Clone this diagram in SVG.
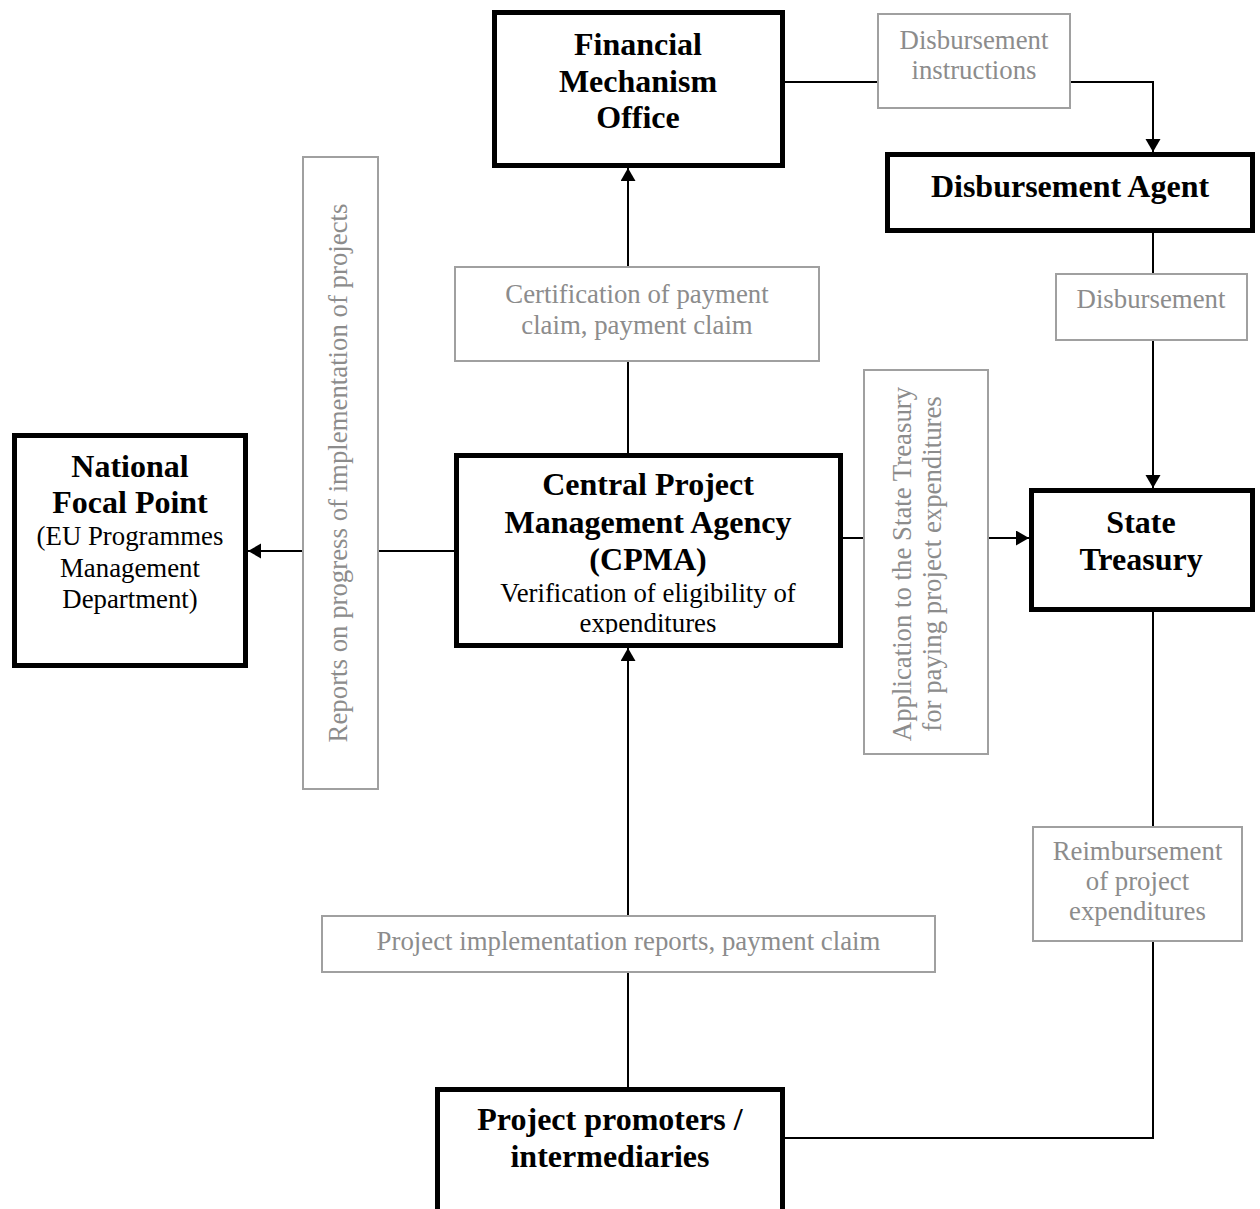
<svg xmlns="http://www.w3.org/2000/svg" width="1260" height="1209" viewBox="0 0 1260 1209">
<defs>
<style>
.node{fill:#fff;stroke:#000;stroke-width:5}
.lbl{fill:#fff;stroke:#a0a0a0;stroke-width:2}
.b{font-family:"Liberation Serif","Times New Roman",serif;font-weight:bold;font-size:32px;fill:#000;text-anchor:middle}
.r{font-family:"Liberation Serif","Times New Roman",serif;font-size:26.8px;fill:#000;text-anchor:middle}
.g{font-family:"Liberation Serif","Times New Roman",serif;font-size:26.8px;fill:#8c8c8c;text-anchor:middle}
.c{fill:none;stroke:#000;stroke-width:2}
</style>
<marker id="ah" markerUnits="userSpaceOnUse" markerWidth="14" markerHeight="16" refX="13" refY="7.5" orient="auto">
<path d="M0,0 L13,7.5 L0,15 z" fill="#000"/>
</marker>
<clipPath id="cpmaClip"><rect x="454" y="453" width="389" height="181"/></clipPath>
</defs>
<rect x="0" y="0" width="1260" height="1209" fill="#fff"/>

<g id="connectors">
<path class="c" d="M785,82 H877"/>
<path class="c" d="M1071,82 H1153 V152" marker-end="url(#ah)"/>
<path class="c" d="M1153,233 V273"/>
<path class="c" d="M1153,341 V488" marker-end="url(#ah)"/>
<path class="c" d="M1153,612 V826"/>
<path class="c" d="M1153,942 V1138 H785"/>
<path class="c" d="M628,1087 V973"/>
<path class="c" d="M628,915 V648" marker-end="url(#ah)"/>
<path class="c" d="M628,453 V362"/>
<path class="c" d="M628,266 V168" marker-end="url(#ah)"/>
<path class="c" d="M454,551 H379"/>
<path class="c" d="M302,551 H248" marker-end="url(#ah)"/>
<path class="c" d="M843,538 H863"/>
<path class="c" d="M989,538 H1029" marker-end="url(#ah)"/>
</g>

<g id="fmo">
<rect class="node" x="494.5" y="12.5" width="288" height="153"/>
<text class="b" x="638" y="55">Financial</text>
<text class="b" x="638" y="92">Mechanism</text>
<text class="b" x="638" y="128">Office</text>
</g>

<g id="disb-instructions">
<rect class="lbl" x="878" y="14" width="192" height="94"/>
<text class="g" x="974" y="49">Disbursement</text>
<text class="g" x="974" y="79">instructions</text>
</g>

<g id="disbursement-agent">
<rect class="node" x="887.5" y="154.5" width="365" height="76"/>
<text class="b" x="1070" y="197">Disbursement Agent</text>
</g>

<g id="disbursement">
<rect class="lbl" x="1056" y="274" width="191" height="66"/>
<text class="g" x="1151" y="308">Disbursement</text>
</g>

<g id="certification">
<rect class="lbl" x="455" y="267" width="364" height="94"/>
<text class="g" x="637" y="303">Certification of payment</text>
<text class="g" x="637" y="334">claim, payment claim</text>
</g>

<g id="reports">
<rect class="lbl" x="303" y="157" width="75" height="632"/>
<text class="g" transform="translate(347,473) rotate(-90)">Reports on progress of implementation of projects</text>
</g>

<g id="nfp">
<rect class="node" x="14.5" y="435.5" width="231" height="230"/>
<text class="b" x="130" y="477">National</text>
<text class="b" x="130" y="513">Focal Point</text>
<text class="r" x="130" y="545">(EU Programmes</text>
<text class="r" x="130" y="577">Management</text>
<text class="r" x="130" y="608">Department)</text>
</g>

<g id="cpma">
<rect class="node" x="456.5" y="455.5" width="384" height="190"/>
<text class="b" x="648" y="495">Central Project</text>
<text class="b" x="648" y="533">Management Agency</text>
<text class="b" x="648" y="570">(CPMA)</text>
<g clip-path="url(#cpmaClip)">
<text class="r" x="648" y="602">Verification of eligibility of</text>
<text class="r" x="648" y="632">expenditures</text>
</g>
</g>

<g id="application">
<rect class="lbl" x="864" y="370" width="124" height="384"/>
<text class="g" transform="translate(911,564) rotate(-90)">Application to the State Treasury</text>
<text class="g" transform="translate(941,564) rotate(-90)">for paying project expenditures</text>
</g>

<g id="state-treasury">
<rect class="node" x="1031.5" y="490.5" width="221" height="119"/>
<text class="b" x="1141" y="533">State</text>
<text class="b" x="1141" y="570">Treasury</text>
</g>

<g id="reimbursement">
<rect class="lbl" x="1033" y="827" width="209" height="114"/>
<text class="g" x="1137.5" y="860">Reimbursement</text>
<text class="g" x="1137.5" y="890">of project</text>
<text class="g" x="1137.5" y="920">expenditures</text>
</g>

<g id="project-impl">
<rect class="lbl" x="322" y="916" width="613" height="56"/>
<text class="g" x="628.5" y="950">Project implementation reports, payment claim</text>
</g>

<g id="project-promoters">
<rect class="node" x="437.5" y="1089.5" width="345" height="130"/>
<text class="b" x="610" y="1130">Project promoters /</text>
<text class="b" x="610" y="1167">intermediaries</text>
</g>
</svg>
